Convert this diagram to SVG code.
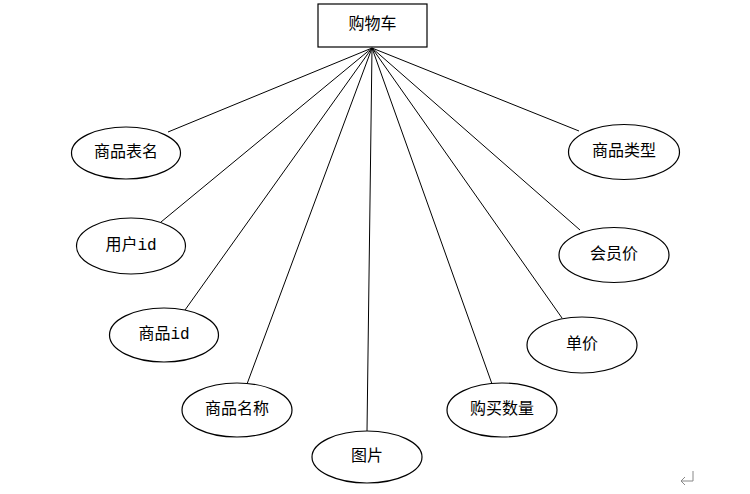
<svg xmlns="http://www.w3.org/2000/svg" width="750" height="494" viewBox="0 0 750 494">
<style>
.n{fill:#fff;stroke:#000;stroke-width:1.2}
.t{font-family:"Liberation Mono","Noto Sans CJK SC",monospace;font-size:16px;fill:#000;text-anchor:middle;dominant-baseline:central}
.c{stroke:#000;stroke-width:1;fill:none}
</style>
<rect width="750" height="494" fill="#fff"/>
<g id="connectors">
<line class="c" x1="372" y1="48" x2="168" y2="132"/>
<line class="c" x1="372" y1="48" x2="161" y2="222"/>
<line class="c" x1="372" y1="48" x2="185" y2="310"/>
<line class="c" x1="372" y1="48" x2="247" y2="384"/>
<line class="c" x1="372" y1="48" x2="367" y2="431"/>
<line class="c" x1="372" y1="48" x2="492" y2="384"/>
<line class="c" x1="372" y1="48" x2="562" y2="318"/>
<line class="c" x1="372" y1="48" x2="580" y2="230"/>
<line class="c" x1="372" y1="48" x2="579" y2="131"/>
</g>
<g id="cart"><rect class="n" x="318" y="4" width="109" height="43"/><text class="t" x="372.5" y="25">购物车</text></g>
<g id="e1"><ellipse class="n" cx="126" cy="153" rx="54.5" ry="26"/><text class="t" x="126" y="153">商品表名</text></g>
<g id="e2"><ellipse class="n" cx="131" cy="246" rx="54.5" ry="28"/><text class="t" x="131" y="246">用户id</text></g>
<g id="e3"><ellipse class="n" cx="164" cy="335" rx="54.5" ry="27"/><text class="t" x="164" y="335">商品id</text></g>
<g id="e4"><ellipse class="n" cx="237" cy="410" rx="55" ry="27"/><text class="t" x="237" y="410">商品名称</text></g>
<g id="e5"><ellipse class="n" cx="367" cy="457" rx="55" ry="26"/><text class="t" x="367" y="457">图片</text></g>
<g id="e6"><ellipse class="n" cx="502" cy="410" rx="55" ry="27"/><text class="t" x="502" y="410">购买数量</text></g>
<g id="e7"><ellipse class="n" cx="582" cy="345" rx="55" ry="28"/><text class="t" x="582" y="345">单价</text></g>
<g id="e8"><ellipse class="n" cx="614" cy="255" rx="55" ry="27.5"/><text class="t" x="614" y="255">会员价</text></g>
<g id="e9"><ellipse class="n" cx="624" cy="152" rx="55.5" ry="27.5"/><text class="t" x="624" y="152">商品类型</text></g>
<path d="M693 471 V481 H681 M685 477 L681 481 L685 485" stroke="#888" stroke-width="1" fill="none"/>
</svg>
